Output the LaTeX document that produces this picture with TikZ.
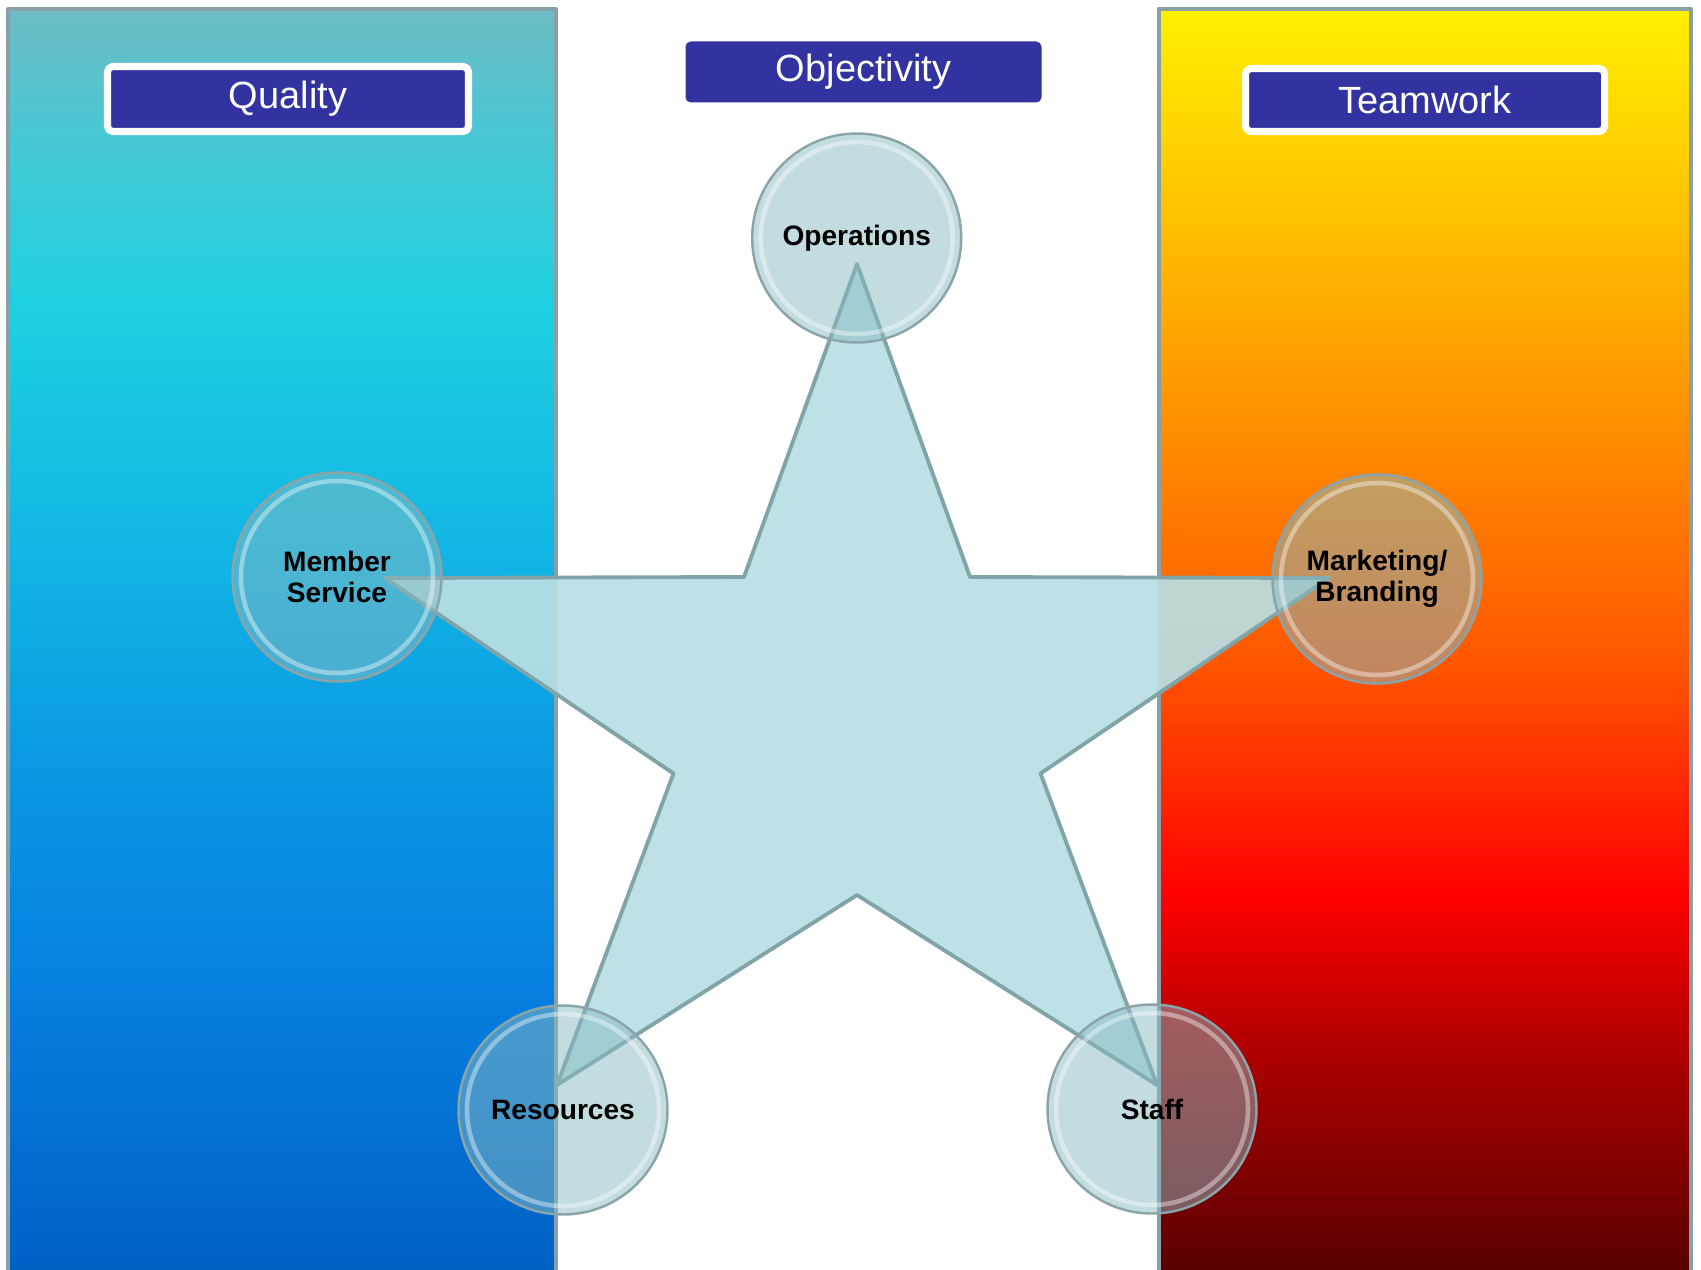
\documentclass[tikz,border=0pt]{standalone}
\usepackage{fontspec}
\setmainfont{Liberation Sans}

\definecolor{panelline}{HTML}{8AA0A7}
\definecolor{tagblue}{HTML}{3232A0}
\definecolor{starfill}{HTML}{B9DFE3}
\definecolor{staredge}{HTML}{80A4A8}
\definecolor{hubfill}{HTML}{87B9C1}
\definecolor{hubedge}{HTML}{8AA4AA}

\definecolor{qualA}{HTML}{0060C4}
\definecolor{qualB}{HTML}{0680E0}
\definecolor{qualC}{HTML}{0A98E2}
\definecolor{qualD}{HTML}{12B6E4}
\definecolor{qualE}{HTML}{1ED0E0}
\definecolor{qualF}{HTML}{46C8D4}
\definecolor{qualG}{HTML}{6EBCC4}

\definecolor{teamA}{HTML}{560000}
\definecolor{teamB}{HTML}{B40000}
\definecolor{teamC}{HTML}{FF0000}
\definecolor{teamD}{HTML}{FF5800}
\definecolor{teamE}{HTML}{FF8C00}
\definecolor{teamF}{HTML}{FFC000}
\definecolor{teamG}{HTML}{FFF000}

\pgfdeclareverticalshading{qualityshade}{100bp}{color(0bp)=(qualA); color(25bp)=(qualA);
  color(36.6bp)=(qualB); color(45.2bp)=(qualC); color(53.8bp)=(qualD);
  color(63.3bp)=(qualE); color(69.8bp)=(qualF); color(75bp)=(qualG); color(100bp)=(qualG)}
\pgfdeclareverticalshading{teamshade}{100bp}{color(0bp)=(teamA); color(25bp)=(teamA);
  color(34.5bp)=(teamB); color(40.1bp)=(teamC); color(49.5bp)=(teamD);
  color(58.1bp)=(teamE); color(66.7bp)=(teamF); color(75bp)=(teamG); color(100bp)=(teamG)}

\begin{document}
\begin{tikzpicture}[line cap=round,line join=round,
  tag/.style={fill=tagblue,text=white,font=\fontsize{10.8}{13}\selectfont,
    inner sep=0pt,rounded corners=1.5pt},
  hub/.style={circle,minimum size=2.09cm,inner sep=0pt,fill=hubfill,fill opacity=0.5,
    text opacity=1,draw=hubedge,line width=0.7pt,align=center,
    font=\fontsize{8}{8.8}\selectfont\bfseries}]
  \useasboundingbox (0,0) rectangle (17.01,12.69);

  % side panels
  \shade[shading=qualityshade] (0.08,-0.1) rectangle (5.56,12.60);
  \draw[panelline,line width=1.2pt] (0.08,-0.1) rectangle (5.56,12.60);
  \shade[shading=teamshade] (11.59,-0.1) rectangle (16.91,12.60);
  \draw[panelline,line width=1.2pt] (11.59,-0.1) rectangle (16.91,12.60);

  % titles
  \node[tag,draw=white,line width=2pt,minimum width=3.61cm,minimum height=0.65cm]
    (quality) at (2.88,11.70) {Quality};
  \node[tag,minimum width=3.56cm,minimum height=0.61cm]
    (objectivity) at (8.635,11.97) {Objectivity};
  \node[tag,draw=white,line width=2pt,minimum width=3.59cm,minimum height=0.63cm]
    (teamwork) at (14.25,11.69) {Teamwork};

  % star
  \draw[fill=starfill,draw=staredge,line width=1.1pt,fill opacity=0.93]
    (8.57,10.05) -- (9.70,6.92) -- (13.29,6.91) -- (10.405,4.955) -- (11.57,1.84)
    -- (8.57,3.74) -- (5.57,1.84) -- (6.735,4.955) -- (3.85,6.91) -- (7.44,6.92) -- cycle;

  % discs on the star points
  \node[hub] (ops) at (8.567,10.31) {Operations};
  \node[hub] (member) at (3.37,6.92) {Member\\Service};
  \node[hub] (market) at (13.77,6.90) {Marketing/\\Branding};
  \node[hub] (res) at (5.63,1.59) {Resources};
  \node[hub] (staff) at (11.52,1.60) {Staff};
  \foreach \n in {ops,member,market,res,staff}
    \draw[white,opacity=0.4,line width=1.3pt] (\n.center) circle (0.96);
\end{tikzpicture}
\end{document}
